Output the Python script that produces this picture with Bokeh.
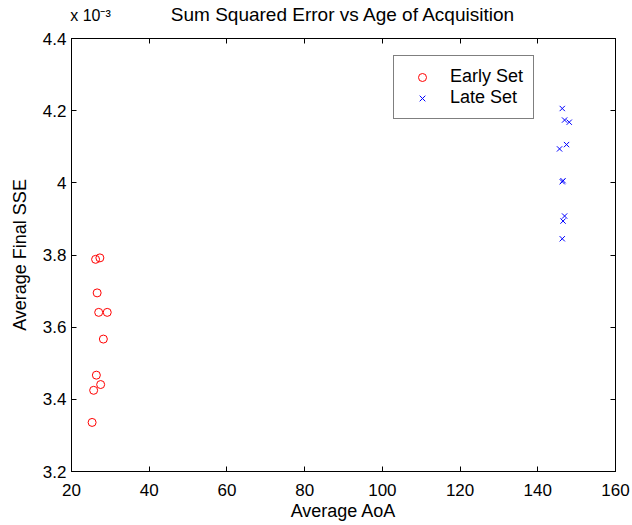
from bokeh.plotting import figure
from bokeh.models import (Range1d, LinearAxis, FixedTicker, CustomJSTickFormatter,
                          Legend, LegendItem)
from bokeh.embed import file_html
from bokeh.resources import INLINE

# ---- data (SSE values in units of 1e-3) ----
early_aoa = [26.2, 27.3, 26.6, 27.0, 29.2, 28.2, 26.4, 27.5, 25.7, 25.3]
early_sse = [3.788, 3.792, 3.695, 3.641, 3.641, 3.567, 3.467, 3.441, 3.425, 3.336]
late_aoa = [146.3, 146.9, 148.1, 147.4, 145.6, 146.3, 146.5, 146.9, 146.5, 146.3]
late_sse = [4.206, 4.174, 4.168, 4.106, 4.094, 4.003, 4.006, 3.908, 3.894, 3.845]

x_ticks = [20, 40, 60, 80, 100, 120, 140, 160]
y_ticks = [3.2, 3.4, 3.6, 3.8, 4.0, 4.2, 4.4]

title_text = "Sum Squared Error vs Age of Acquisition"
x_label = "Average AoA"
y_label = "Average Final SSE"
multiplier_text = "x 10\u207b\u00b3"

FONT = "Liberation Sans"

p = figure(width=632, height=525, output_backend="svg", toolbar_location=None,
           x_range=Range1d(20, 160), y_range=Range1d(3.2, 4.4),
           min_border_left=71, min_border_right=17, min_border_top=38,
           min_border_bottom=54,
           x_axis_label=x_label, y_axis_label=y_label)
p.title = None

p.grid.visible = False
p.outline_line_color = "black"
p.background_fill_color = "white"
p.border_fill_color = "white"

fmt = CustomJSTickFormatter(code="return Number(tick.toFixed(1)).toString();")
blank = CustomJSTickFormatter(code="return '';")

for ax in p.xaxis:
    ax.ticker = FixedTicker(ticks=x_ticks)
for ax in p.yaxis:
    ax.ticker = FixedTicker(ticks=y_ticks)
    ax.formatter = fmt

def style(ax, labels=True):
    ax.axis_line_color = "black"
    ax.major_tick_line_color = "black"
    ax.major_tick_in = 5
    ax.major_tick_out = 0
    ax.minor_tick_line_color = None
    ax.minor_tick_in = 0
    ax.minor_tick_out = 0
    ax.major_label_text_font = FONT
    ax.major_label_text_color = "black"
    ax.axis_label_text_font = FONT
    ax.axis_label_text_font_size = "18px"
    ax.axis_label_text_font_style = "normal"
    ax.axis_label_text_color = "black"
    if labels:
        ax.major_label_text_font_size = "17px"
    else:
        ax.formatter = blank
        ax.major_label_text_color = None
        ax.major_label_standoff = 0

for ax in p.xaxis:
    style(ax)
    ax.major_label_standoff = 12
    ax.axis_label_standoff = 2
for ax in p.yaxis:
    style(ax)
    ax.major_label_standoff = 5
    ax.axis_label_standoff = 10

top = LinearAxis(ticker=FixedTicker(ticks=x_ticks))
right = LinearAxis(ticker=FixedTicker(ticks=y_ticks))
style(top, labels=False)
style(right, labels=False)
p.add_layout(top, "above")
p.add_layout(right, "right")

# header row: exponent multiplier above the top-left corner and the title
head = LinearAxis(ticker=FixedTicker(ticks=[24.9]),
                  formatter=CustomJSTickFormatter(
                      code="return '%s';" % multiplier_text),
                  axis_label=title_text)
head.axis_line_color = None
head.major_tick_line_color = None
head.minor_tick_line_color = None
head.major_tick_in = 0
head.major_tick_out = 0
head.minor_tick_in = 0
head.minor_tick_out = 0
head.major_label_text_font = FONT
head.major_label_text_font_size = "16px"
head.major_label_text_color = "black"
head.major_label_standoff = 15
head.axis_label_text_font = FONT
head.axis_label_text_font_size = "19px"
head.axis_label_text_font_style = "normal"
head.axis_label_text_color = "black"
try:
    head.axis_label_standoff = -21
except Exception:
    head.axis_label_standoff = 0
p.add_layout(head, "above")

r_early = p.scatter(early_aoa, early_sse, marker="circle", size=8,
                    line_color="red", fill_color=None, line_width=1)
r_late = p.scatter(late_aoa, late_sse, marker="x", size=7.5,
                   line_color="blue", line_width=1)

legend = Legend(items=[LegendItem(label="Early Set", renderers=[r_early]),
                       LegendItem(label="Late Set", renderers=[r_late])],
                location=(322, 352), padding=10, spacing=0,
                glyph_width=36, glyph_height=20, label_height=20,
                label_standoff=10, margin=0,
                label_text_font=FONT, label_text_font_size="18px",
                label_text_color="black",
                border_line_color="black", border_line_width=1,
                background_fill_color="white", background_fill_alpha=1)
p.add_layout(legend, "center")

open("out.html", "w").write(file_html(p, INLINE))
